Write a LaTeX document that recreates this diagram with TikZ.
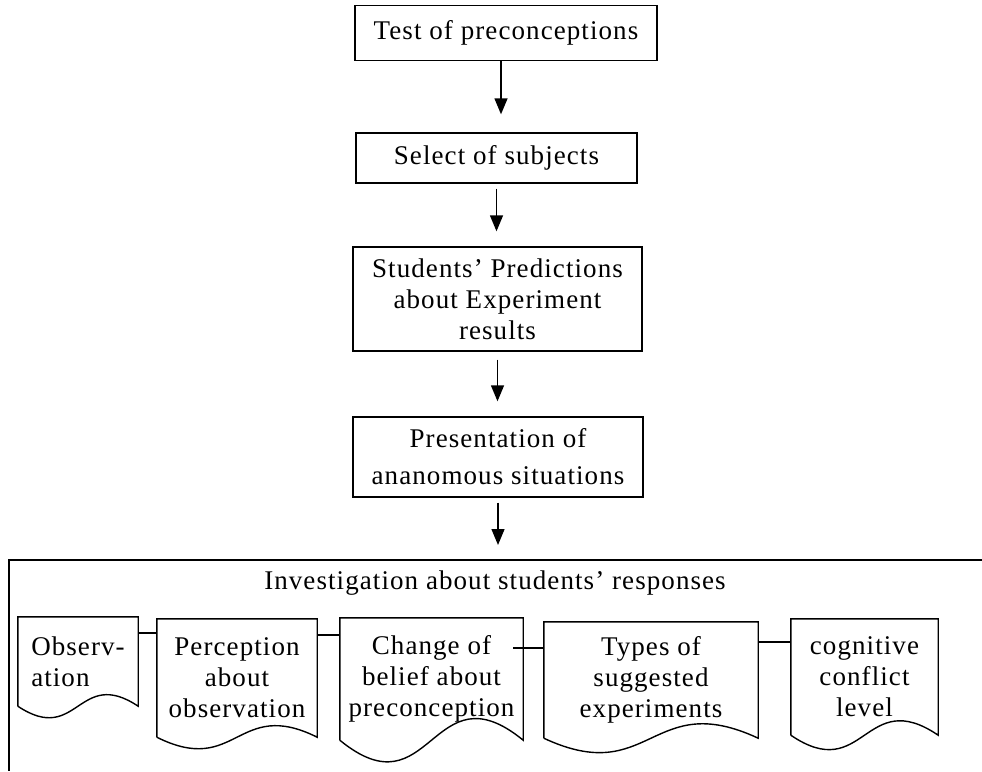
\documentclass[tikz,border=0pt]{standalone}
\usepackage{fontspec}
\setmainfont{Liberation Serif}[LetterSpace=4]
\usetikzlibrary{positioning,calc,arrows.meta}

\begin{document}
\begin{tikzpicture}[x=1pt,y=1pt]
    \tikzstyle{every node}=[font=\fontsize{27}{31}\selectfont,inner sep=0]
    \tikzstyle{step box}=[draw,line width=1.4,rectangle,align=center]
    \tikzstyle{doc box}=[rectangle,align=center,draw=none]
    \tikzstyle{flow}=[line width=1.4,-{Triangle[width=13,length=16]},shorten >=15,shorten <=3]
    \tikzstyle{link}=[line width=1.4]
    \useasboundingbox (0,0) rectangle (982,-771);
    {
        \node[step box,minimum width=302,minimum height=55] (test) at (506,-33) {Test of preconceptions};
        \node[step box,minimum width=281,minimum height=50] (select) at (496.5,-158) {Select of subjects};
        \node[step box,minimum width=289,minimum height=104] (predict) at (497.5,-299)
            {Students' Predictions\\about Experiment\\results};
        \node[step box,minimum width=290,minimum height=80] (present) at (498,-457)
            {Presentation of\\[6pt]ananomous situations};

        % frame round the responses, only top and left edge visible
        \coordinate (frameNE) at (982,-560);
        \coordinate (frameNW) at (9,-560);
        \coordinate (frameSW) at (9,-771);
        \draw[link] (frameNE) -- (frameNW) -- (frameSW);
        \node (investig) at (495,-583) {Investigation about students' responses};

        \draw[flow,shorten >=18,shorten <=0] ([xshift=-5]test.south) -- ([xshift=-5]test.south |- select.north);
        \draw[flow,shorten <=5] (select.south) -- (select.south |- predict.north);
        \draw[flow,shorten <=8] (predict.south) -- (predict.south |- present.north);
        \draw[flow,shorten <=5] (present.south) -- (present.south |- frameNW);

        \node[doc box,minimum width=120,minimum height=89,align=left] (obs) at (78,-661.5) {Observ-\\ation};
        \node[doc box,minimum width=160,minimum height=118] (percept) at (237,-678) {Perception\\about\\observation};
        \node[doc box,minimum width=183,minimum height=122] (belief) at (431.5,-679) {Change of\\belief about\\preconception};
        \node[doc box,minimum width=214,minimum height=116] (types) at (651,-680) {Types of\\suggested\\experiments};
        \node[doc box,minimum width=147,minimum height=116] (conflict) at (864.5,-677) {cognitive\\conflict\\level};

        % wavy bottom of each document box
        \foreach \d/\a in {obs/40,percept/40,belief/75,types/50,conflict/50}{
            \draw[link] let \p1=(\d.south west), \p2=(\d.south east), \n1={(\x2-\x1)/2} in
                (\d.south west) -- (\d.north west) -- (\d.north east) -- (\d.south east)
                .. controls +(-\n1,\a) and +(\n1,-\a) .. (\d.south west);
        }

        \draw[link] ([yshift=-16]obs.north east) -- ([yshift=-14]percept.north west);
        \draw[link] ([yshift=-16]percept.north east) -- ([yshift=-17]belief.north west);
        \draw[link] ([yshift=-30,xshift=-10]belief.north east) -- ([yshift=-26]types.north west);
        \draw[link] ([yshift=-20]types.north east) -- ([yshift=-23]conflict.north west);
    }
\end{tikzpicture}
\end{document}
